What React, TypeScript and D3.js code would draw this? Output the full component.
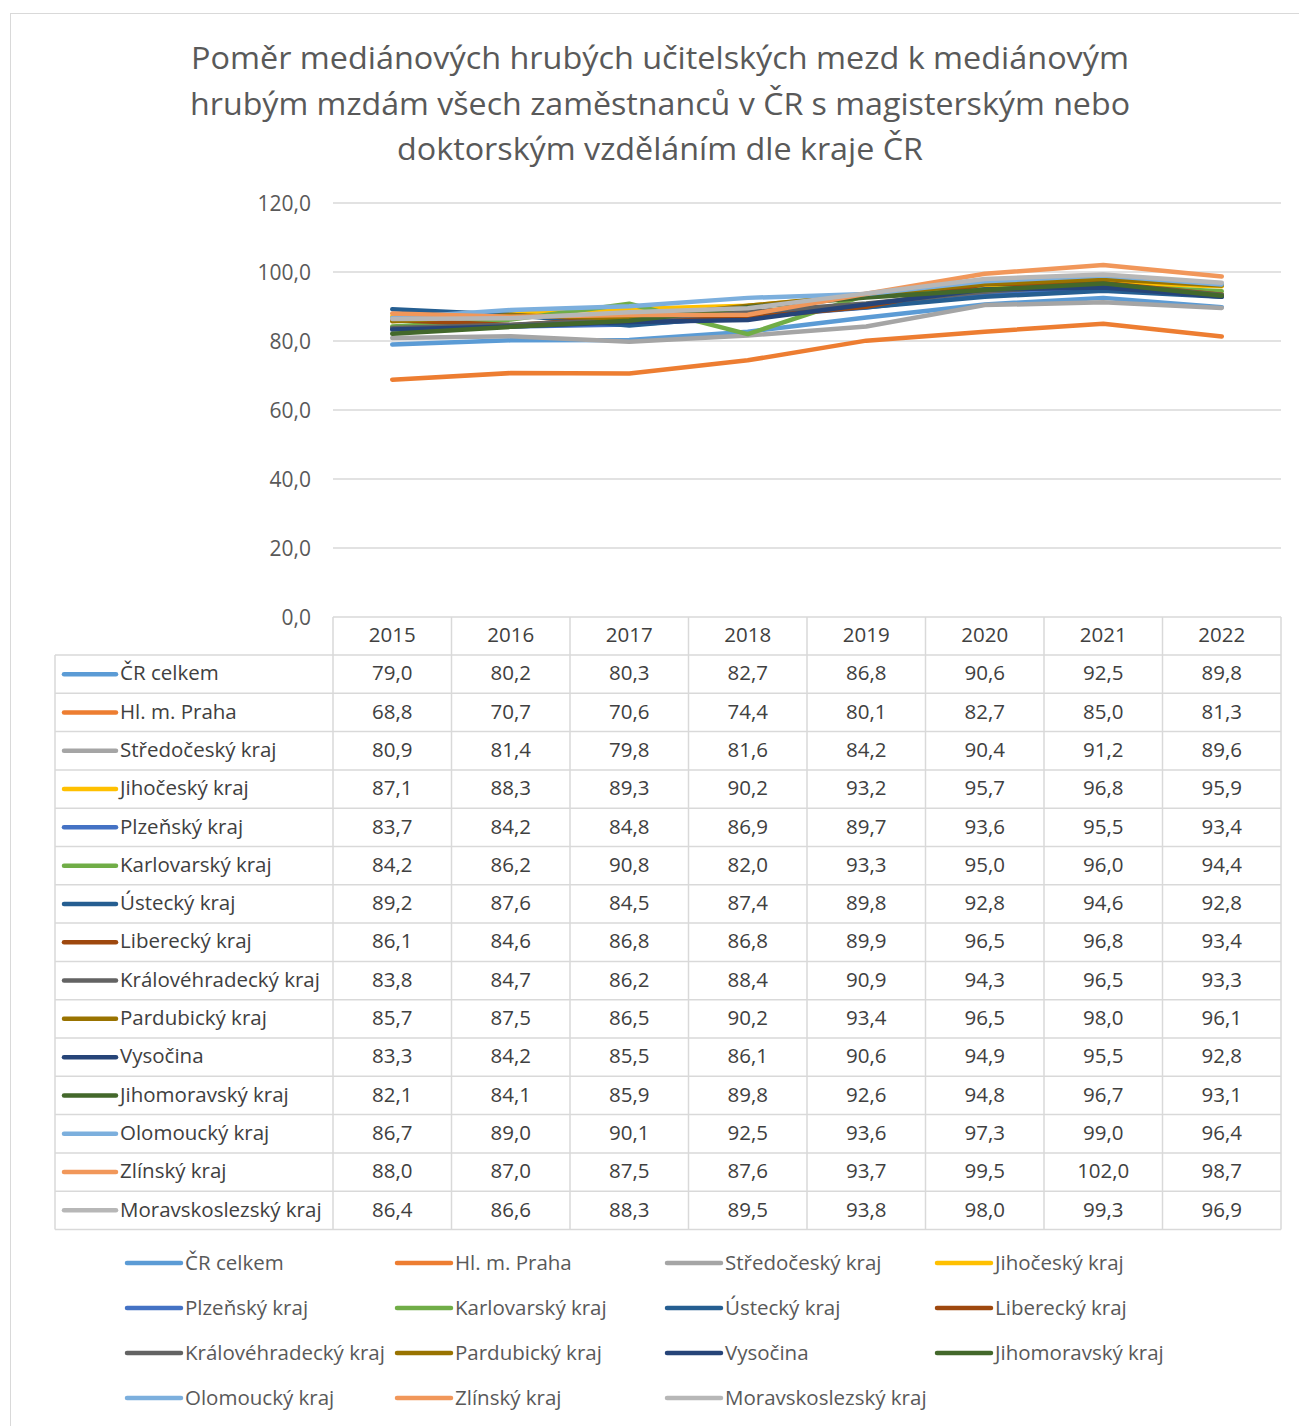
import React from "react";
import * as d3 from "d3";

const years = ["2015", "2016", "2017", "2018", "2019", "2020", "2021", "2022"];
const yTicks = [0, 20, 40, 60, 80, 100, 120];

const crCelkem = [79.0, 80.2, 80.3, 82.7, 86.8, 90.6, 92.5, 89.8];
const praha = [68.8, 70.7, 70.6, 74.4, 80.1, 82.7, 85.0, 81.3];
const stredocesky = [80.9, 81.4, 79.8, 81.6, 84.2, 90.4, 91.2, 89.6];
const jihocesky = [87.1, 88.3, 89.3, 90.2, 93.2, 95.7, 96.8, 95.9];
const plzensky = [83.7, 84.2, 84.8, 86.9, 89.7, 93.6, 95.5, 93.4];
const karlovarsky = [84.2, 86.2, 90.8, 82.0, 93.3, 95.0, 96.0, 94.4];
const ustecky = [89.2, 87.6, 84.5, 87.4, 89.8, 92.8, 94.6, 92.8];
const liberecky = [86.1, 84.6, 86.8, 86.8, 89.9, 96.5, 96.8, 93.4];
const kralovehradecky = [83.8, 84.7, 86.2, 88.4, 90.9, 94.3, 96.5, 93.3];
const pardubicky = [85.7, 87.5, 86.5, 90.2, 93.4, 96.5, 98.0, 96.1];
const vysocina = [83.3, 84.2, 85.5, 86.1, 90.6, 94.9, 95.5, 92.8];
const jihomoravsky = [82.1, 84.1, 85.9, 89.8, 92.6, 94.8, 96.7, 93.1];
const olomoucky = [86.7, 89.0, 90.1, 92.5, 93.6, 97.3, 99.0, 96.4];
const zlinsky = [88.0, 87.0, 87.5, 87.6, 93.7, 99.5, 102.0, 98.7];
const moravskoslezsky = [86.4, 86.6, 88.3, 89.5, 93.8, 98.0, 99.3, 96.9];

const seriesNames = [
  "ČR celkem", "Hl. m. Praha", "Středočeský kraj", "Jihočeský kraj", "Plzeňský kraj",
  "Karlovarský kraj", "Ústecký kraj", "Liberecký kraj", "Královéhradecký kraj",
  "Pardubický kraj", "Vysočina", "Jihomoravský kraj", "Olomoucký kraj", "Zlínský kraj",
  "Moravskoslezský kraj",
];
const seriesValues = [
  crCelkem, praha, stredocesky, jihocesky, plzensky, karlovarsky, ustecky, liberecky,
  kralovehradecky, pardubicky, vysocina, jihomoravsky, olomoucky, zlinsky, moravskoslezsky,
];
const colors = [
  "#5B9BD5", "#ED7D31", "#A5A5A5", "#FFC000", "#4472C4", "#70AD47", "#255E91", "#9E480E",
  "#636363", "#997300", "#264478", "#43682B", "#7CAFDD", "#F1975A", "#B7B7B7",
];

const titleLines = [
  "Poměr mediánových hrubých učitelských mezd k mediánovým",
  "hrubým mzdám všech zaměstnanců v ČR s magisterským nebo",
  "doktorským vzděláním dle kraje ČR",
];

const fmt = (v: number) => v.toFixed(1).replace(".", ",");
const font = "'Open Sans', sans-serif";

export default function App() {
  const width = 1299;
  const height = 1426;
  const plotLeft = 333;
  const plotRight = 1281;
  const x = d3.scaleBand<string>().domain(years).range([plotLeft, plotRight]);
  const y = d3.scaleLinear().domain([0, 120]).range([617, 203]);
  const rowH = 38.3;
  const tableTop = 617;
  const headerBottom = 655;
  const tableBottom = headerBottom + rowH * seriesNames.length;
  const tableLeft = 55;
  const tfs = 20.5;

  const line = d3
    .line<number>()
    .x((_, i) => (x(years[i]) as number) + x.bandwidth() / 2)
    .y((d) => y(d));

  const legendCols = [127, 397, 667, 937];
  const legendRows = [1263, 1308, 1353, 1398];

  return (
    <svg
      width={width}
      height={height}
      style={{ position: "absolute", left: 0, top: 0, background: "#fff" }}
      fontFamily={font}
    >
      <rect x={10.5} y={13.5} width={1300} height={1430} fill="#fff" stroke="#D9D9D9" />

      {titleLines.map((t, i) => (
        <text
          key={i}
          x={660}
          y={69 + i * 45.5}
          textAnchor="middle"
          fontSize={31}
          fill="#595959"
          textLength={i === 0 ? 938 : i === 1 ? 940 : 526}
          lengthAdjust="spacingAndGlyphs"
        >
          {t}
        </text>
      ))}

      {/* gridlines */}
      {yTicks.map((t) => (
        <g key={t}>
          <line x1={plotLeft} x2={plotRight} y1={y(t)} y2={y(t)} stroke="#D9D9D9" strokeWidth={1.5} />
          <text x={311} y={y(t)} dy="0.38em" textAnchor="end" fontSize={21} fill="#595959">
            {fmt(t)}
          </text>
        </g>
      ))}

      {/* series lines */}
      {seriesValues.map((vals, i) => (
        <path
          key={seriesNames[i]}
          d={line(vals) as string}
          fill="none"
          stroke={colors[i]}
          strokeWidth={4.5}
          strokeLinecap="round"
          strokeLinejoin="round"
        />
      ))}

      {/* data table */}
      <g stroke="#D9D9D9" strokeWidth={1.5}>
        {years.map((yr) => (
          <line key={yr} x1={x(yr)} x2={x(yr)} y1={tableTop} y2={tableBottom} />
        ))}
        <line x1={plotRight} x2={plotRight} y1={tableTop} y2={tableBottom} />
        <line x1={tableLeft} x2={tableLeft} y1={headerBottom} y2={tableBottom} />
        {seriesNames.map((_, i) => (
          <line key={i} x1={tableLeft} x2={plotRight} y1={headerBottom + i * rowH} y2={headerBottom + i * rowH} />
        ))}
        <line x1={tableLeft} x2={plotRight} y1={tableBottom} y2={tableBottom} />
      </g>
      {years.map((yr) => (
        <text
          key={yr}
          x={(x(yr) as number) + x.bandwidth() / 2}
          y={(tableTop + headerBottom) / 2}
          dy="0.3em"
          textAnchor="middle"
          fontSize={tfs}
          fill="#404040"
        >
          {yr}
        </text>
      ))}
      {seriesNames.map((name, i) => {
        const cy = headerBottom + rowH * i + rowH / 2;
        return (
          <g key={name}>
            <line x1={64} x2={116} y1={cy} y2={cy} stroke={colors[i]} strokeWidth={4.5} strokeLinecap="round" />
            <text x={120} y={cy} dy="0.3em" fontSize={tfs} fill="#404040">
              {name}
            </text>
            {seriesValues[i].map((v, j) => (
              <text
                key={j}
                x={(x(years[j]) as number) + x.bandwidth() / 2}
                y={cy}
                dy="0.3em"
                textAnchor="middle"
                fontSize={tfs}
                fill="#404040"
              >
                {fmt(v)}
              </text>
            ))}
          </g>
        );
      })}

      {/* bottom legend */}
      {seriesNames.map((name, i) => {
        const lx = legendCols[i % 4];
        const ly = legendRows[Math.floor(i / 4)];
        return (
          <g key={name}>
            <line x1={lx} x2={lx + 54} y1={ly} y2={ly} stroke={colors[i]} strokeWidth={4.5} strokeLinecap="round" />
            <text x={lx + 58} y={ly} dy="0.32em" fontSize={20.5} fill="#595959">
              {name}
            </text>
          </g>
        );
      })}
    </svg>
  );
}
